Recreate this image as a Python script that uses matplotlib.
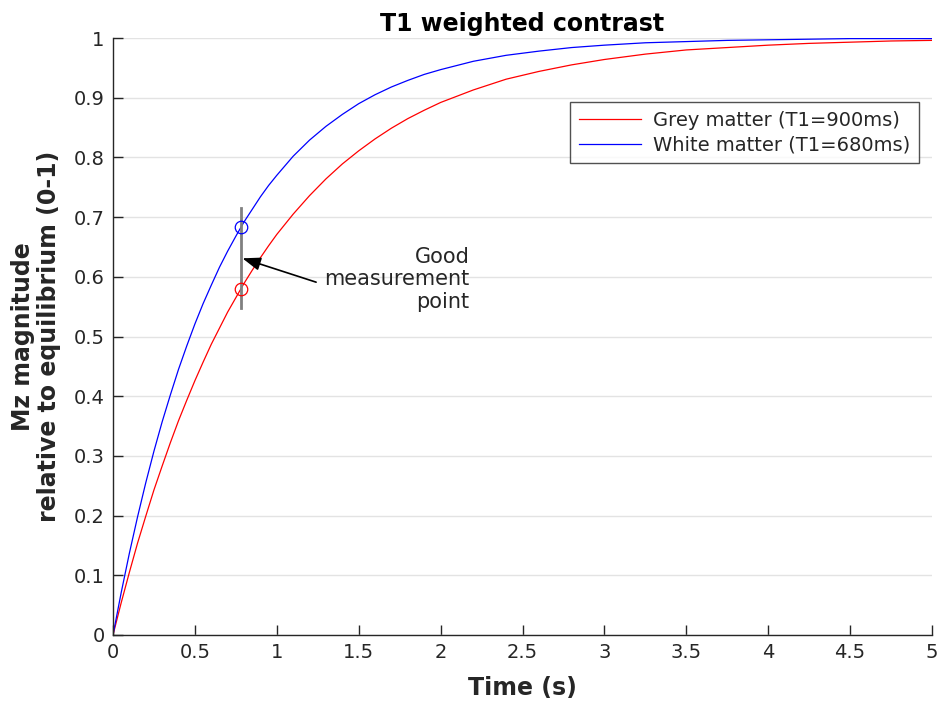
import matplotlib
matplotlib.use("Agg")
import matplotlib.pyplot as plt

# Data
t_grey = [0, 0.05, 0.1, 0.15, 0.2, 0.25, 0.3, 0.35, 0.4, 0.45, 0.5, 0.55, 0.6, 0.65, 0.7, 0.75,
          0.8, 0.85, 0.9, 0.95, 1.0, 1.1, 1.2, 1.3, 1.4, 1.5, 1.6, 1.7, 1.8, 1.9, 2.0,
          2.2, 2.4, 2.6, 2.8, 3.0, 3.25, 3.5, 3.75, 4.0, 4.25, 4.5, 4.75, 5.0]
mz_grey = [0, 0.054, 0.105, 0.154, 0.199, 0.243, 0.283, 0.322, 0.359, 0.393, 0.426, 0.457,
           0.487, 0.514, 0.541, 0.565, 0.589, 0.611, 0.632, 0.652, 0.671, 0.705, 0.736, 0.764,
           0.789, 0.811, 0.831, 0.849, 0.865, 0.879, 0.892, 0.913, 0.931, 0.944, 0.955, 0.964,
           0.973, 0.980, 0.984, 0.988, 0.991, 0.993, 0.995, 0.996]
t_white = list(t_grey)
mz_white = [0, 0.071, 0.137, 0.198, 0.255, 0.308, 0.357, 0.402, 0.445, 0.484, 0.521, 0.555,
            0.586, 0.616, 0.643, 0.668, 0.692, 0.713, 0.734, 0.753, 0.770, 0.802, 0.829, 0.852,
            0.872, 0.890, 0.905, 0.918, 0.929, 0.939, 0.947, 0.961, 0.971, 0.978, 0.984, 0.988,
            0.992, 0.994, 0.996, 0.997, 0.998, 0.999, 0.999, 0.999]
labels = ["Grey matter (T1=900ms)", "White matter (T1=680ms)"]
meas_t = 0.78
meas_grey = 0.58
meas_white = 0.683
meas_span = [0.548, 0.715]
arrow_tip = (0.79, 0.631)
arrow_tail = (1.24, 0.591)
note_pos = (2.175, 0.596)
note_text = "Good\nmeasurement\npoint"
x_ticks = [0, 0.5, 1, 1.5, 2, 2.5, 3, 3.5, 4, 4.5, 5]
x_tick_labels = ["0", "0.5", "1", "1.5", "2", "2.5", "3", "3.5", "4", "4.5", "5"]
y_ticks = [0, 0.1, 0.2, 0.3, 0.4, 0.5, 0.6, 0.7, 0.8, 0.9, 1]
y_tick_labels = ["0", "0.1", "0.2", "0.3", "0.4", "0.5", "0.6", "0.7", "0.8", "0.9", "1"]

plt.rcParams['font.family'] = ['DejaVu Sans']
txt = '#262626'
W, H = 939, 704
fig = plt.figure(figsize=(W / 100, H / 100), dpi=100)
ax = fig.add_axes([113 / W, 1 - 635 / H, (932 - 113) / W, (635 - 38) / H])

ax.plot(t_grey, mz_grey, color='#ff0000', lw=0.9, label=labels[0])
ax.plot(t_white, mz_white, color='#0000ff', lw=0.9, label=labels[1])
ax.plot([meas_t, meas_t], meas_span, color='#808080', lw=2.0, zorder=3)
ax.plot([meas_t], [meas_grey], 'o', mfc='none', mec='#ff0000', ms=9, mew=0.9, zorder=4)
ax.plot([meas_t], [meas_white], 'o', mfc='none', mec='#0000ff', ms=9, mew=0.9, zorder=4)

ax.annotate('', xy=arrow_tip, xytext=arrow_tail,
            arrowprops=dict(arrowstyle='-|>,head_length=1.1,head_width=0.4', color='black',
                            lw=1.2, shrinkA=0, shrinkB=0))
ax.text(note_pos[0], note_pos[1], note_text, ha='right', va='center',
        fontsize=15, color=txt, linespacing=1.15)

ax.set_xlim(0, 5)
ax.set_ylim(0, 1)
ax.set_xticks(x_ticks)
ax.set_xticklabels(x_tick_labels)
ax.set_yticks(y_ticks)
ax.set_yticklabels(y_tick_labels)
ax.tick_params(direction='in', length=7, width=1, colors=txt, labelsize=14, pad=6)
ax.yaxis.grid(True, color='#e3e3e3', lw=1)
ax.set_axisbelow(True)
for s in ['top', 'right']:
    ax.spines[s].set_visible(False)
for s in ['left', 'bottom']:
    ax.spines[s].set_color(txt)
    ax.spines[s].set_linewidth(1)

ax.set_title("T1 weighted contrast", fontsize=17, fontweight='bold', color='black', pad=5)
ax.set_xlabel("Time (s)", fontsize=17, fontweight='bold', color=txt, labelpad=10)
ax.set_ylabel("Mz magnitude\nrelative to equilibrium (0-1)", fontsize=17, fontweight='bold',
              color=txt, labelpad=9, linespacing=1.1)

leg = ax.legend(loc='upper right', bbox_to_anchor=(919 / W, 1 - 102 / H),
                bbox_transform=fig.transFigure, borderaxespad=0, fontsize=14, frameon=True,
                fancybox=False, edgecolor=txt, handlelength=3.2, borderpad=0.45,
                labelspacing=0.3, handletextpad=0.6)
leg.get_frame().set_linewidth(1)
for t in leg.get_texts():
    t.set_color(txt)

fig.savefig("out.png", dpi=100)
